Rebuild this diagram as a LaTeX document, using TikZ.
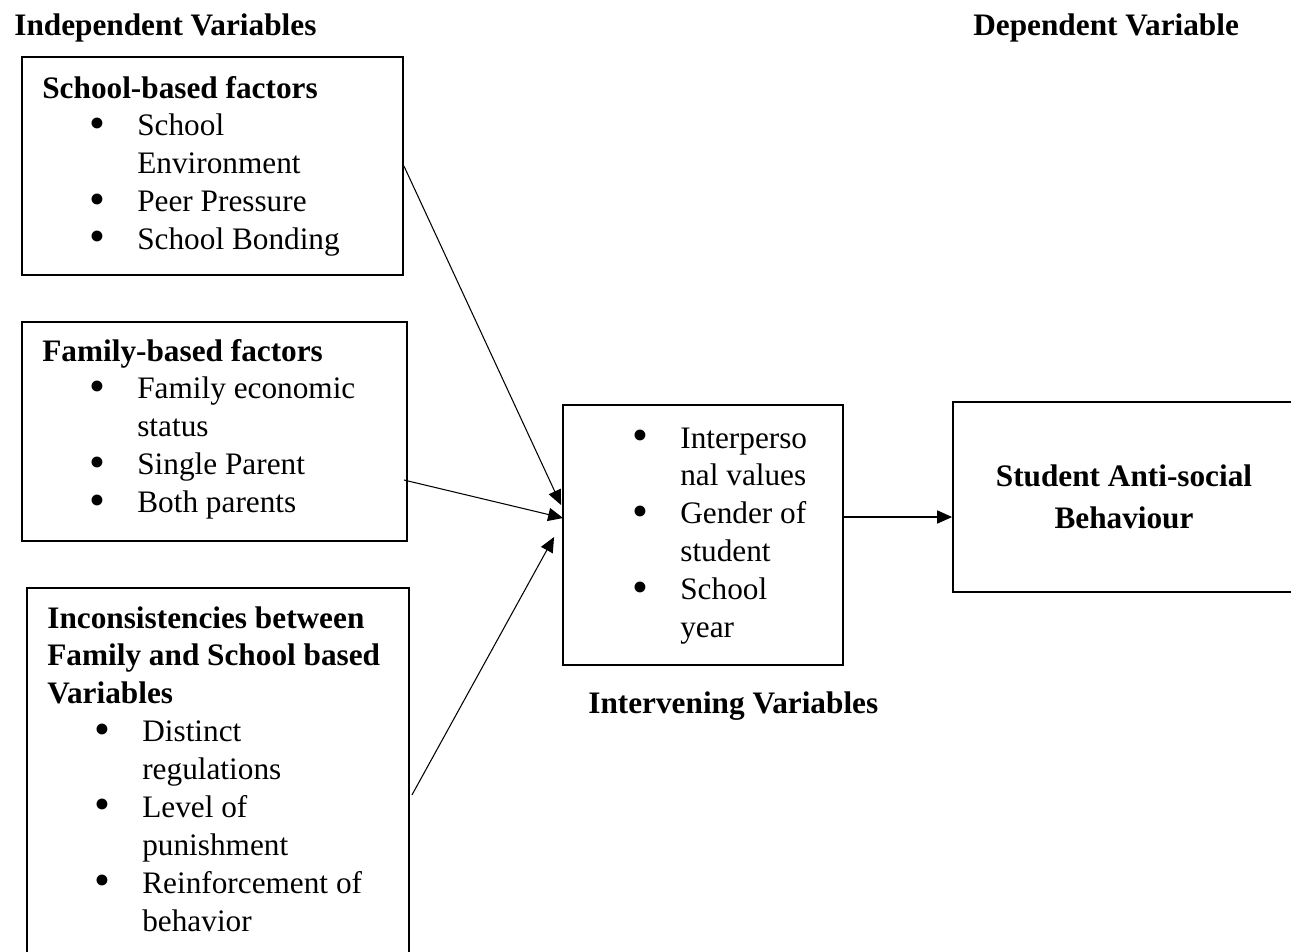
\documentclass[tikz,border=0pt]{standalone}
\usepackage{fontspec}
\setmainfont{Liberation Serif}
\usetikzlibrary{arrows.meta,positioning,calc}
\newcommand{\bul}{\hspace*{0.94cm}\smash{\raisebox{-0.07em}{\scalebox{1.45}{\textbullet}}}}

\begin{document}
\begin{tikzpicture}[x=0.02cm, y=-0.02cm, font=\fontsize{17.8}{21.6}\selectfont,
  >={Triangle[length=8.5pt,width=7.5pt]}]
\tikzset{box/.style={draw, rectangle, line width=1.1pt, inner sep=0pt},
  lst/.style={anchor=base west, inner sep=0pt}}

\useasboundingbox (0,0) rectangle (1291,951);

% Headings
\node[lst] (indep) at (14,35) {\textbf{Independent Variables}};
\node[lst] (dep) at (973,35) {\textbf{Dependent Variable}};
\node[lst] (interv) at (588,713) {\textbf{Intervening Variables}};

% Independent variables
\node[box, minimum width=7.62cm, minimum height=4.36cm] (school) at (212.5,166) {};
\node[lst] (schooltxt) at (42,98) {\begin{tabular}[t]{@{}p{1.9cm}@{}l@{}}
 \multicolumn{2}{@{}l@{}}{\textbf{School-based factors}}\\
 \bul & School\\
     & Environment\\
 \bul & Peer Pressure\\
 \bul & School Bonding
 \end{tabular}};

\node[box, minimum width=7.7cm, minimum height=4.38cm] (family) at (214.5,431.5) {};
\node[lst] (familytxt) at (42,361) {\begin{tabular}[t]{@{}p{1.9cm}@{}l@{}}
 \multicolumn{2}{@{}l@{}}{\textbf{Family-based factors}}\\
 \bul & Family economic\\
     & status\\
 \bul & Single Parent\\
 \bul & Both parents
 \end{tabular}};

\node[box, minimum width=7.64cm, minimum height=7.44cm] (incons) at (218,774) {};
\node[lst] (inconstxt) at (47,628) {\begin{tabular}[t]{@{}p{1.9cm}@{}l@{}}
 \multicolumn{2}{@{}l@{}}{\textbf{Inconsistencies between}}\\
 \multicolumn{2}{@{}l@{}}{\textbf{Family and School based}}\\
 \multicolumn{2}{@{}l@{}}{\textbf{Variables}}\\
 \bul & Distinct\\
     & regulations\\
 \bul & Level of\\
     & punishment\\
 \bul & Reinforcement of\\
     & behavior
 \end{tabular}};

% Intervening variables
\node[box, minimum width=5.6cm, minimum height=5.2cm] (inter) at (703,535) {};
\node[lst] (intertxt) at (585,448) {\begin{tabular}[t]{@{}p{1.9cm}@{}l@{}}
 \bul & Interperso\\
     & nal values\\
 \bul & Gender of\\
     & student\\
 \bul & School\\
     & year
 \end{tabular}};

% Dependent variable
\node[box, minimum width=6.84cm, minimum height=3.8cm, align=center,
  font=\fontsize{17.8}{21.6}\selectfont\bfseries] (outcome) at (1124,497)
 {Student Anti-social\\[0.08cm] Behaviour};

% Connections
\draw[->, line width=0.6pt] (school.east) -- ($(inter.west)+(-1,-30)$);
\draw[->, line width=0.6pt] ($(family.east)+(-4,48.5)$) -- ($(inter.west)+(1,-17)$);
\draw[->, line width=0.6pt] ($(incons.east)+(2,21)$) -- ($(inter.west)+(-8,2)$);
\draw[->, line width=0.6pt] ($(inter.east)+(0,-18)$) coordinate (p) -- (p -| outcome.west);

\end{tikzpicture}
\end{document}
